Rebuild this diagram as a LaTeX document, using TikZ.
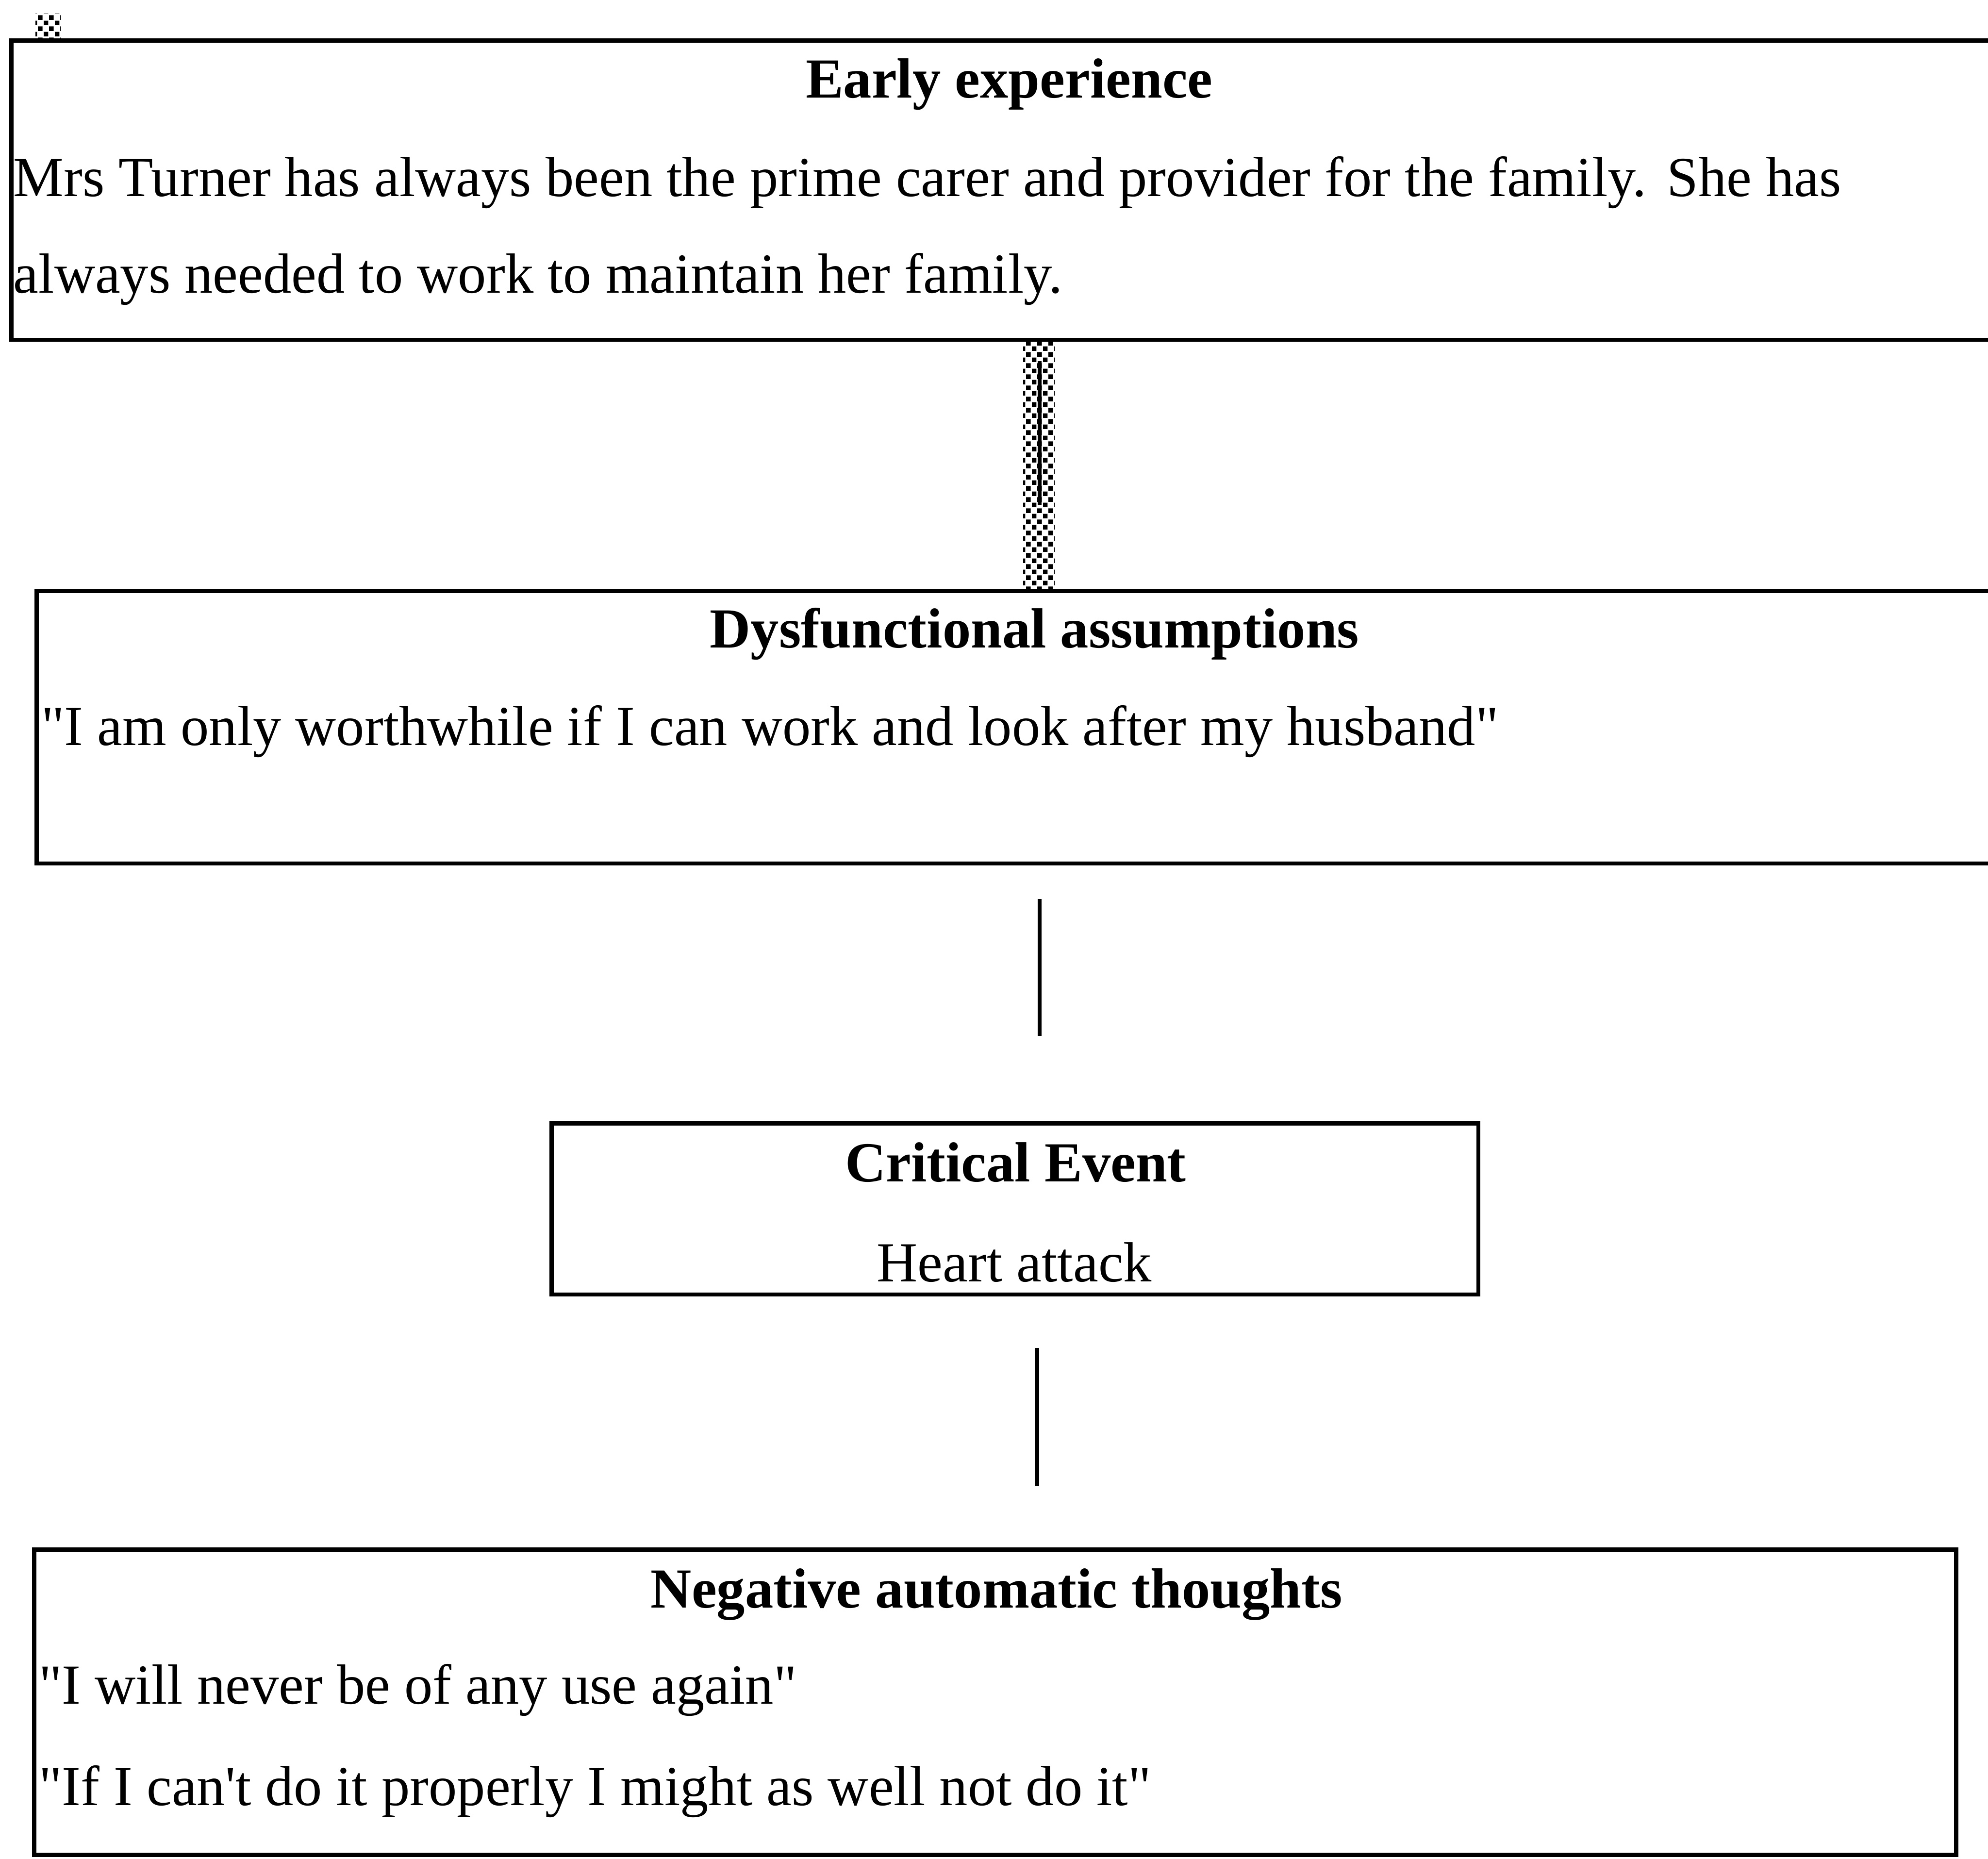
\documentclass[tikz,border=0pt]{standalone}
\usepackage{fontspec}
\setmainfont{Liberation Serif}
\usetikzlibrary{fit,patterns.meta}
\frenchspacing

% fine checkered dot screen used for the shaded link
\tikzdeclarepattern{
  name=dither,
  type=uncolored,
  bounding box={(0pt,0pt) and (2.6pt,2.6pt)},
  tile size={(2.6pt,2.6pt)},
  code={
    \pgfpathrectangle{\pgfpointorigin}{\pgfpoint{1.1pt}{1.1pt}}
    \pgfpathrectangle{\pgfpoint{1.3pt}{1.3pt}}{\pgfpoint{1.1pt}{1.1pt}}
    \pgfusepath{fill}
  }
}

% straight typewriter-style quotes
\newcommand{\dq}{\textquotedbl}
\newcommand{\sq}{\textquotesingle}

\tikzset{
  panel/.style={draw, line width=1pt, inner sep=0pt, fill=none},
  shade/.style={inner sep=0pt, pattern={dither}, pattern color=black},
  link/.style={line width=1pt},
  txt/.style={inner sep=0pt, anchor=base, font=\fontsize{13.4}{16}\selectfont},
  txtl/.style={txt, anchor=base west},
  head/.style={txt, font=\fontsize{13.4}{16}\selectfont\bfseries}
}

\begin{document}
\begin{tikzpicture}[x=0.3003pt, y=-0.3003pt]
  \useasboundingbox (0,0) rectangle (1568,1466);

  % shaded marker and shaded link
  \node[shade, fit={(28,11) (48,31)}] (marker) {};
  \node[shade, fit={(807,268) (832,466)}] (band) {};

  % boxes
  \node[panel, fit={(9,32) (1620,268)}] (early) {};
  \node[panel, fit={(29,466) (1620,681)}] (dys) {};
  \node[panel, fit={(435,886) (1166,1021)}] (crit) {};
  \node[panel, fit={(27,1222) (1543,1463)}] (nat) {};

  % texts
  \node[head] (earlyh) at (796,77) {Early experience};
  \node[txtl] (early1) at (10,155) {Mrs Turner has always been the prime carer and provider for the family.\hspace{1.5pt} She has};
  \node[txtl] (early2) at (10,231) {always needed to work to maintain her family.};

  \node[head] (dysh) at (816,511) {Dysfunctional assumptions};
  \node[txtl] (dys1) at (32,588) {\dq I am only worthwhile if I can work and look after my husband\dq};

  \node[head] (crith) at (801,932) {Critical Event};
  \node[txt] (crit1) at (800,1011) {Heart attack};

  \node[head] (nath) at (786,1268) {Negative automatic thoughts};
  \node[txtl] (nat1) at (30,1344) {\dq I will never be of any use again\dq};
  \node[txtl] (nat2) at (30,1424) {\dq If I can\sq t do it properly I might as well not do it\dq};

  % connectors
  \coordinate (a1) at (820,285);
  \coordinate (a2) at (820,398);
  \draw[link] (a1) -- (a2);

  \coordinate (b1) at (820,709);
  \coordinate (b2) at (820,817);
  \draw[link] (b1) -- (b2);

  \coordinate (c1) at (818,1063);
  \coordinate (c2) at (818,1172);
  \draw[link] (c1) -- (c2);
\end{tikzpicture}
\end{document}
